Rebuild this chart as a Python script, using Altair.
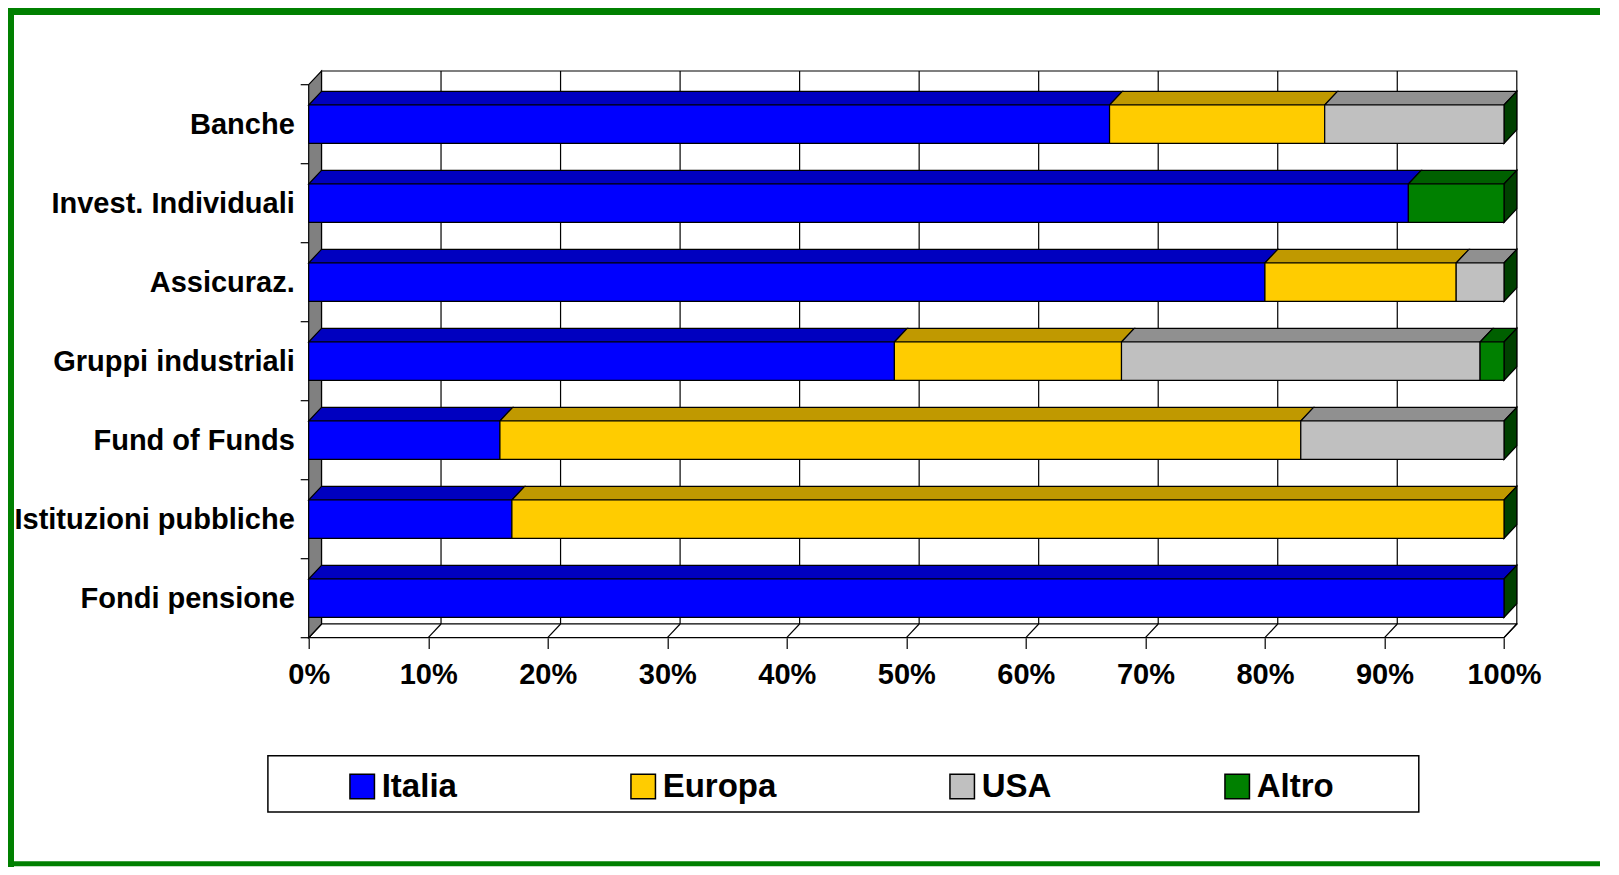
import altair as alt
import pandas as pd
import json

# ---------------- data ----------------
categories = ["Banche", "Invest. Individuali", "Assicuraz.", "Gruppi industriali",
              "Fund of Funds", "Istituzioni pubbliche", "Fondi pensione"]
series = ["Italia", "Europa", "USA", "Altro"]
italia = [67, 92, 80, 49, 16, 17, 100]
europa = [18, 0, 16, 19, 67, 83, 0]
usa = [15, 0, 4, 30, 17, 0, 0]
altro = [0, 8, 0, 2, 0, 0, 0]
x_ticks = [0, 10, 20, 30, 40, 50, 60, 70, 80, 90, 100]

# ---------------- style ----------------
front_colors = ["#0000FF", "#FFCC00", "#C0C0C0", "#008000"]
top_colors = ["#0000C0", "#C09900", "#909090", "#006000"]
side_color = "#004000"
FONT = "Liberation Sans"
DX = 1.071      # 3D depth in x units
DY = 0.1734     # 3D depth in category units
H = 0.243       # half bar thickness (category units)
TICKX = 0.669   # y tick length in x units
W_PLOT = 1208.1
H_PLOT = 566.7
PAD = {"left": 300.7, "top": 63, "right": 91.2, "bottom": 229.3}

n = len(categories)
y_min, y_max = -0.5 - DY, n - 0.5
x_max = 100 + DX

# ---------------- derived tables ----------------
front_rows, top_rows, side_rows = [], [], []
seg = 0
for i, cat in enumerate(categories):
    start = 0
    for s, vals in zip(series, [italia, europa, usa, altro]):
        v = vals[i]
        if v > 0:
            front_rows.append(dict(cat=cat, serie=s, x=start, x2=start + v, y=i - H, y2=i + H))
            top_rows.append(dict(seg=seg, serie=s, y=i - H, x=start, x2=start + v))
            top_rows.append(dict(seg=seg, serie=s, y=i - H - DY, x=start + DX, x2=start + v + DX))
            seg += 1
        start += v
    side_rows.append(dict(cat=cat, x=start, y=i - H, y2=i + H))
    side_rows.append(dict(cat=cat, x=start + DX, y=i - H - DY, y2=i + H - DY))

front_df = pd.DataFrame(front_rows)
top_df = pd.DataFrame(top_rows)
side_df = pd.DataFrame(side_rows)

back_df = pd.DataFrame([dict(x=DX, x2=100 + DX, y=y_min, y2=n - 0.5 - DY)])
grid_df = pd.DataFrame([dict(x=t + DX, y=y_min, y2=n - 0.5 - DY) for t in x_ticks[1:-1]])
floor_df = pd.DataFrame([dict(k=0, y=n - 0.5, x=0, x2=100),
                         dict(k=0, y=n - 0.5 - DY, x=DX, x2=100 + DX)])
floor_grid_df = pd.DataFrame([dict(x=t, x2=t + DX, y=n - 0.5, y2=n - 0.5 - DY) for t in x_ticks])
wall_df = pd.DataFrame([dict(k=0, x=0, y=-0.5, y2=n - 0.5),
                        dict(k=0, x=DX, y=-0.5 - DY, y2=n - 0.5 - DY)])
ytick_df = pd.DataFrame([dict(x=-TICKX, x2=0, y=b - 0.5) for b in range(n + 1)])
dummy = pd.DataFrame({"a": [0]})

# ---------------- scales / axes ----------------
xs = alt.Scale(domain=[0, x_max], nice=False, zero=False)
ys = alt.Scale(domain=[y_min, y_max], nice=False, zero=False, reverse=True)

x_axis = alt.Axis(values=x_ticks, labelExpr="datum.value + '%'", title=None, domain=False,
                  grid=False, tickSize=10.7, tickColor="black", tickWidth=1.2,
                  labelFont=FONT, labelFontSize=29, labelFontWeight="bold",
                  labelColor="black", labelPadding=12, labelFlush=False)
cat_js = json.dumps(categories)
y_axis = alt.Axis(values=list(range(n)), labelExpr=f"{cat_js}[datum.value]", title=None,
                  domain=False, grid=False, ticks=False, labelFont=FONT, labelFontSize=29,
                  labelFontWeight="bold", labelColor="black", labelPadding=14.4,
                  labelLimit=400, labelFlush=False)


def X(f="x"):
    return alt.X(f"{f}:Q", scale=xs, axis=x_axis, stack=None)


def Y(f="y"):
    return alt.Y(f"{f}:Q", scale=ys, axis=y_axis, stack=None)


LW = 1.2

back = alt.Chart(back_df).mark_rect(fill="white", stroke="black", strokeWidth=LW).encode(
    x=X(), x2="x2:Q", y=Y(), y2="y2:Q")
grid = alt.Chart(grid_df).mark_rule(color="black", strokeWidth=LW).encode(
    x=X(), y=Y(), y2="y2:Q")
floor = alt.Chart(floor_df).mark_area(orient="horizontal", fill="white", stroke="black",
                                       strokeWidth=LW).encode(
    y=Y(), x=X(), x2="x2:Q", detail="k:N")
floor_grid = alt.Chart(floor_grid_df).mark_rule(color="black", strokeWidth=LW).encode(
    x=X(), x2="x2:Q", y=Y(), y2="y2:Q")
wall = alt.Chart(wall_df).mark_area(fill="#808080", stroke="black", strokeWidth=LW).encode(
    x=X(), y=Y(), y2="y2:Q", detail="k:N")
yticks = alt.Chart(ytick_df).mark_rule(color="black", strokeWidth=LW).encode(
    x=X(), x2="x2:Q", y=Y())

tops = alt.Chart(top_df).mark_area(orient="horizontal", stroke="black", strokeWidth=LW,
                                    opacity=1).encode(
    y=Y(), x=X(), x2="x2:Q",
    fill=alt.Fill("serie:N", scale=alt.Scale(domain=series, range=top_colors), legend=None),
    detail="seg:N")
sides = alt.Chart(side_df).mark_area(fill=side_color, stroke="black", strokeWidth=LW,
                                      opacity=1).encode(
    x=X(), y=Y(), y2="y2:Q", detail="cat:N")

legend_box = alt.Chart(dummy).mark_rect(fill="white", stroke="black", strokeWidth=1.5).encode(
    x=alt.value(-40.8), x2=alt.value(1110.1), y=alt.value(684.7), y2=alt.value(741))

fronts = alt.Chart(front_df).mark_rect(stroke="black", strokeWidth=LW, opacity=1).encode(
    x=X(), x2="x2:Q", y=Y(), y2="y2:Q",
    color=alt.Color("serie:N", scale=alt.Scale(domain=series, range=front_colors),
                    sort=series,
                    legend=alt.Legend(title=None, orient="none", legendX=37, legendY=698.8,
                                      direction="horizontal", symbolType="square",
                                      symbolSize=600, symbolStrokeColor="black",
                                      symbolStrokeWidth=1.5, labelFont=FONT,
                                      labelFontSize=33, labelFontWeight="bold",
                                      labelColor="black", labelOffset=3,
                                      columnPadding=169, padding=0, labelLimit=400)))

GREEN = "#008000"
frame_top = alt.Chart(dummy).mark_rule(color=GREEN, strokeWidth=7).encode(
    x=alt.value(-300.7), x2=alt.value(1291.3), y=alt.value(-59.5))
frame_left = alt.Chart(dummy).mark_rule(color=GREEN, strokeWidth=6).encode(
    x=alt.value(-297.7), y=alt.value(-63), y2=alt.value(796))
frame_bottom = alt.Chart(dummy).mark_rule(color=GREEN, strokeWidth=5).encode(
    x=alt.value(-300.7), x2=alt.value(1291.3), y=alt.value(792.8))

chart = alt.layer(
    back, grid, floor, floor_grid, wall, yticks, tops, sides, fronts, legend_box,
    frame_top, frame_left, frame_bottom
).resolve_scale(fill="independent", color="independent").properties(
    width=W_PLOT, height=H_PLOT,
    autosize=alt.AutoSizeParams(type="none"),
    padding=PAD,
    background="white",
).configure_view(strokeWidth=0)

chart.save("out.html", embed_options={"renderer": "svg", "actions": False})
